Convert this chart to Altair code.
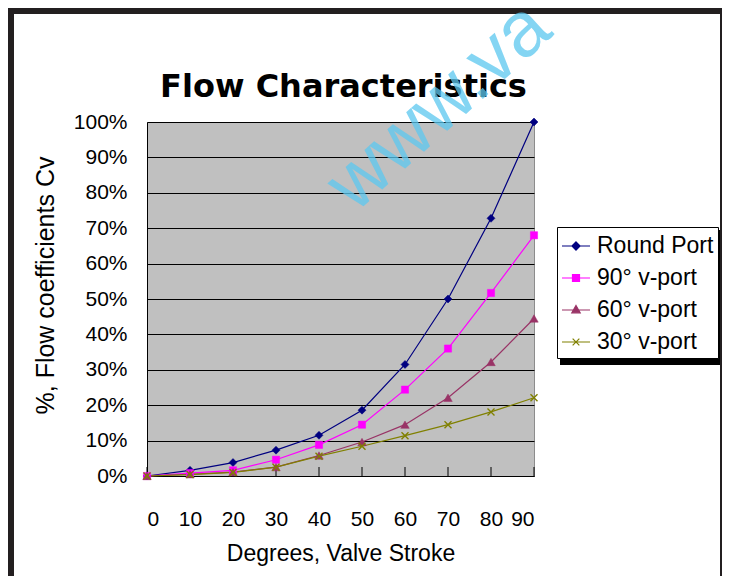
import altair as alt
import pandas as pd

# ---- data ----
degrees = [0, 10, 20, 30, 40, 50, 60, 70, 80, 90]
round_port = [0.0, 0.016, 0.038, 0.073, 0.115, 0.186, 0.315, 0.500, 0.728, 1.000]
vport_90 = [0.0, 0.008, 0.016, 0.046, 0.088, 0.145, 0.244, 0.360, 0.517, 0.680]
vport_60 = [0.0, 0.005, 0.011, 0.025, 0.058, 0.096, 0.145, 0.221, 0.322, 0.445]
vport_30 = [0.0, 0.004, 0.010, 0.025, 0.056, 0.084, 0.114, 0.145, 0.181, 0.221]

series_names = ["Round Port", "90° v-port", "60° v-port", "30° v-port"]
series_values = [round_port, vport_90, vport_60, vport_30]
series_colors = ["#000080", "#FF00FF", "#993366", "#808000"]
series_shapes = ["diamond", "square", "triangle-up", "M-1,-1L1,1M-1,1L1,-1"]
series_sizes = [64, 52, 72, 49]
legend_paths = [
    "M-1,0H1M0,-0.29L0.29,0L0,0.29L-0.29,0Z",
    "M-1,0H1M-0.25,-0.25H0.25V0.25H-0.25Z",
    "M-1,0H1M0,-0.32L0.3,0.2H-0.3Z",
    "M-1,0H1M-0.24,-0.24L0.24,0.24M-0.24,0.24L0.24,-0.24",
]
x_ticks = [0, 10, 20, 30, 40, 50, 60, 70, 80, 90]
y_ticks = [0.0, 0.1, 0.2, 0.3, 0.4, 0.5, 0.6, 0.7, 0.8, 0.9, 1.0]

title_text = "Flow Characteristics"
x_title = "Degrees, Valve Stroke"
y_title = "%, Flow coefficients Cv"
watermark = "www.va"

rows = []
for name, vals in zip(series_names, series_values):
    for d, v in zip(degrees, vals):
        rows.append({"deg": d, "val": v, "series": name})
df = pd.DataFrame(rows)
ticks_df = pd.DataFrame({"deg": x_ticks})
one = pd.DataFrame({"k": [0]})

W, H = 387, 354
PL, PT = 139, 114
TOTW, TOTH = 714, 568

x_scale = alt.Scale(domain=[0, 90], nice=False, zero=False)
y_scale = alt.Scale(domain=[0, 1], nice=False)
x_axis = alt.Axis(values=x_ticks, title=x_title, ticks=False, labelPadding=32,
                  titleY=84, titleBaseline="alphabetic", grid=False)
y_axis = alt.Axis(values=y_ticks, format=".0%", title=y_title, ticks=False,
                  labelPadding=20, titleX=-94, titleY=163, titleAngle=270,
                  titleBaseline="alphabetic", titleFontSize=25, grid=True)

def X():
    return alt.X("deg:Q", scale=x_scale, axis=x_axis)

def Y():
    return alt.Y("val:Q", scale=y_scale, axis=y_axis)

# frame around the whole picture
frame_top = alt.Chart(one).mark_rect(color="#231F20").encode(
    x=alt.value(-PL), x2=alt.value(TOTW - PL), y=alt.value(-PT), y2=alt.value(-PT + 6))
frame_left = alt.Chart(one).mark_rect(color="#231F20").encode(
    x=alt.value(-PL), x2=alt.value(-PL + 6), y=alt.value(-PT), y2=alt.value(TOTH - PT))
frame_right = alt.Chart(one).mark_rect(color="#231F20").encode(
    x=alt.value(TOTW - PL - 2), x2=alt.value(TOTW - PL), y=alt.value(-PT), y2=alt.value(TOTH - PT))

# legend box shadow
LX, LY, LW, LH = 410, 105, 160, 135
legend_shadow = alt.Chart(one).mark_rect(color="black").encode(
    x=alt.value(LX + 3), x2=alt.value(LX + LW + 3), y=alt.value(LY + 3), y2=alt.value(LY + LH + 3))

# inside tick marks on the x axis
tick_marks = alt.Chart(ticks_df).mark_rule(color="black", strokeWidth=1).encode(
    x=X(), y=alt.value(H), y2=alt.value(H - 9))

line_layers = []
point_layers = []
for name, col, shp, sz in zip(series_names, series_colors, series_shapes, series_sizes):
    sub = alt.Chart(df).transform_filter(alt.datum.series == name)
    line_layers.append(sub.mark_line(strokeWidth=1.2, color=col).encode(x=X(), y=Y()))
    is_path = shp.startswith("M")
    point_layers.append(
        sub.mark_point(
            shape=shp, filled=not is_path, color=col, size=sz, opacity=1,
            strokeWidth=1.4 if is_path else 0.5, stroke=col,
        ).encode(x=X(), y=Y())
    )

leg = alt.Legend(orient="none", legendX=LX, legendY=LY, title=None,
                 labelFontSize=23, labelFont="Liberation Sans", labelColor="black",
                 symbolSize=784, symbolStrokeWidth=1.2, symbolOpacity=1,
                 padding=4, rowPadding=5, labelOffset=6, labelLimit=300,
                 strokeColor="black", fillColor="white")

legend_layer = alt.Chart(df).transform_calculate(val="-1").mark_point(
    filled=True, clip=True, opacity=1).encode(
    x=X(), y=Y(),
    fill=alt.Fill("series:N", scale=alt.Scale(domain=series_names, range=series_colors), legend=leg),
    stroke=alt.Stroke("series:N", scale=alt.Scale(domain=series_names, range=series_colors), legend=leg),
    shape=alt.Shape("series:N", scale=alt.Scale(domain=series_names, range=legend_paths), legend=leg),
)

title = alt.Chart(one).mark_text(
    text=title_text, font="DejaVu Sans", fontSize=32, fontWeight="bold", color="black",
    align="center", baseline="alphabetic").encode(x=alt.value(W / 2 + 3), y=alt.value(-25))

wm = alt.Chart(one).mark_text(
    text=watermark, font="Liberation Sans", fontSize=78, color="#5CC8F0", opacity=0.75,
    align="left", baseline="alphabetic", angle=318).encode(x=alt.value(208), y=alt.value(92))

chart = alt.layer(
    frame_top, frame_left, frame_right, tick_marks, *line_layers, *point_layers,
    legend_layer, legend_shadow, title, wm,
).properties(
    width=W, height=H,
    padding={"left": PL, "top": PT, "right": TOTW - PL - W, "bottom": TOTH - PT - H},
    autosize=alt.AutoSizeParams(type="none"),
    background="white",
).configure_view(
    fill="#C0C0C0", stroke="#8C8C8C", strokeWidth=1,
).configure_axis(
    labelFont="Liberation Sans", labelFontSize=21, labelColor="black",
    titleFont="Liberation Sans", titleFontSize=23, titleColor="black", titleFontWeight="normal",
    domainColor="black", domainWidth=1, gridColor="black", gridWidth=1, gridOpacity=1,
)

chart.save("out.html", embed_options={"renderer": "svg", "actions": False})
